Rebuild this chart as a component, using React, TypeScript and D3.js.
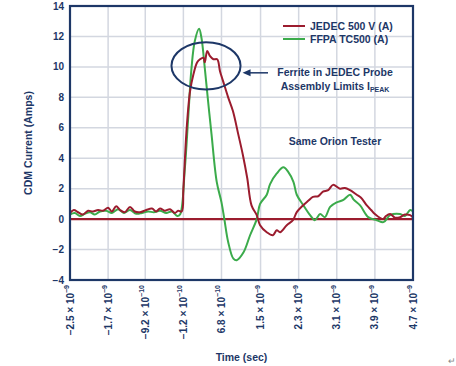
import * as d3 from 'd3';

// time in ns, current in A
const jedecTime = [
  -2.5, -2.42, -2.33, -2.23, -2.12, -2.02, -1.91, -1.81, -1.7, -1.62, -1.53, -1.45, -1.35, -1.24, -1.14, -1.03,
  -0.9, -0.78, -0.69, -0.61, -0.51, -0.4, -0.3, -0.23, -0.155, -0.12, -0.05, 0.02, 0.09, 0.17, 0.23, 0.3, 0.33,
  0.38, 0.44, 0.51, 0.59, 0.65, 0.71, 0.82, 0.92, 1.03, 1.13, 1.22, 1.31, 1.42, 1.49, 1.63, 1.76, 1.84, 1.91,
  2.05, 2.18, 2.26, 2.39, 2.5, 2.6, 2.71, 2.81, 2.92, 3.02, 3.17, 3.27, 3.38, 3.52, 3.61, 3.73, 3.82, 3.9, 4.07,
  4.13, 4.22, 4.32, 4.43, 4.53, 4.64, 4.7,
];
const jedecAmps = [
  0.4, 0.6, 0.45, 0.3, 0.55, 0.5, 0.6, 0.55, 0.75, 0.5, 0.85, 0.6, 0.45, 0.8, 0.5, 0.45,
  0.6, 0.7, 0.5, 0.7, 0.55, 0.65, 0.4, 0.55, 0.5, 2.0, 6.0, 8.4, 9.5, 10.3, 10.5, 10.6, 10.3,
  11.05, 10.7, 10.5, 10.5, 9.7, 9.1, 8.0, 7.1, 5.6, 4.2, 2.7, 0.9, 0.26, -0.4, -0.86, -1.06, -0.73, -0.86,
  -0.4, -0.07, 0.46, 0.9, 1.2, 1.46, 1.5, 1.8, 1.9, 2.25, 2.0, 2.05, 1.9, 1.6, 1.4, 0.9, 0.6, 0.33, 0.0,
  0.2, 0.33, 0.1, 0.13, 0.3, 0.26, 0.1,
];

const ffpaTime = [
  -2.5, -2.4, -2.29, -2.19, -2.08, -1.98, -1.87, -1.74, -1.62, -1.49, -1.37, -1.24, -1.11, -0.99, -0.86, -0.74,
  -0.61, -0.48, -0.36, -0.25, -0.19, -0.09, -0.02, 0.05, 0.12, 0.21, 0.26, 0.33, 0.4, 0.47, 0.58, 0.68, 0.74,
  0.82, 0.93, 1.0, 1.14, 1.28, 1.42, 1.49, 1.63, 1.7, 1.84, 1.98, 2.08, 2.19, 2.26, 2.4, 2.54, 2.64, 2.75,
  2.85, 2.96, 3.1, 3.24, 3.38, 3.45, 3.59, 3.76, 3.94, 4.08, 4.22, 4.43, 4.53, 4.64, 4.7,
];
const ffpaAmps = [
  0.3, 0.4, 0.2, 0.35, 0.45, 0.3, 0.5, 0.55, 0.4, 0.65, 0.4, 0.6, 0.35, 0.4, 0.5, 0.45,
  0.55, 0.4, 0.5, 0.2, 0.3, 3.3, 6.6, 9.9, 11.7, 12.5, 11.9, 9.9, 7.7, 5.6, 2.45, 1.1, 0.0,
  -1.5, -2.6, -2.7, -2.2, -1.06, 0.0, 1.0, 1.6, 2.3, 3.0, 3.4, 3.1, 2.45, 1.6, 0.9, 0.26, -0.07, 0.33,
  0.13, 0.8, 1.1, 1.26, 1.6, 1.3, 0.9, 0.13, -0.07, -0.2, 0.26, 0.33, 0.2, 0.6, 0.5,
];

const xTickValues = [-2.5, -1.7, -0.92, -0.12, 0.68, 1.5, 2.3, 3.1, 3.9, 4.7];
const xTickMantissa = ['\u22122.5', '\u22121.7', '\u22129.2', '\u22121.2', '6.8', '1.5', '2.3', '3.1', '3.9', '4.7'];
const xTickExponent = ['\u22129', '\u22129', '\u221210', '\u221210', '\u221210', '\u22129', '\u22129', '\u22129', '\u22129', '\u22129'];
const yTickValues = [-4, -2, 0, 2, 4, 6, 8, 10, 12, 14];

const seriesNames = ['JEDEC 500 V (A)', 'FFPA TC500 (A)'];

const RED = '#9b1c2e';
const GREEN = '#3bab4b';
const NAVY = '#1d3767';
const GRID = '#d3d7e0';
const FONT = '"Liberation Sans", Arial, sans-serif';

export default function App() {
  const left = 70, right = 413, top = 6, bottom = 280;
  const x = d3.scaleLinear().domain([-2.5, 4.7]).range([left, right]);
  const y = d3.scaleLinear().domain([-4, 14]).range([bottom, top]);

  const line = d3.line<[number, number]>()
    .x(d => x(d[0]))
    .y(d => y(d[1]))
    .curve(d3.curveCatmullRom.alpha(0.5));

  const jedec = jedecTime.map((t, i) => [t, jedecAmps[i]] as [number, number]);
  const ffpa = ffpaTime.map((t, i) => [t, ffpaAmps[i]] as [number, number]);

  // ellipse around the JEDEC peak
  const ecx = x(0.355), ecy = y(10.07);
  const erx = x(0.355 + 0.725) - ecx, ery = y(10.07 - 1.55) - ecy;
  const ay = ecy + 7, ax = ecx + erx + 2;

  return (
    <svg width={456} height={366} style={{ position: 'absolute', left: 0, top: 0, background: '#fff' }} fontFamily={FONT}>
      {/* grid */}
      {xTickValues.map(v => (
        <line key={'gx' + v} x1={x(v)} x2={x(v)} y1={top} y2={bottom} stroke={GRID} strokeWidth={1.5} />
      ))}
      {yTickValues.map(v => (
        <line key={'gy' + v} x1={left} x2={right} y1={y(v)} y2={y(v)} stroke={GRID} strokeWidth={1.5} />
      ))}

      {/* zero reference */}
      <line x1={left} x2={right} y1={y(0)} y2={y(0)} stroke={RED} strokeWidth={2.2} />

      <path d={line(ffpa) ?? ''} fill="none" stroke={GREEN} strokeWidth={2} strokeLinejoin="round" />
      <path d={line(jedec) ?? ''} fill="none" stroke={RED} strokeWidth={2} strokeLinejoin="round" />

      <rect x={left} y={top} width={right - left} height={bottom - top} fill="none" stroke={NAVY} strokeWidth={2.2} />

      {/* y ticks */}
      {yTickValues.map(v => (
        <text key={'ty' + v} x={left - 6} y={y(v)} dy="0.35em" textAnchor="end" fontSize={10} fontWeight="bold" fill={NAVY}>
          {v < 0 ? '\u2212' + Math.abs(v) : v}
        </text>
      ))}

      {/* x ticks */}
      {xTickValues.map((v, i) => (
        <text key={'tx' + v} transform={`translate(${x(v)},${bottom + 5}) rotate(-90)`} textAnchor="end"
          dominantBaseline="central" fontSize={10} fontWeight="bold" fill={NAVY}>
          {xTickMantissa[i] + ' \u00d7 10'}
          <tspan fontSize={7} dy={-4}>{xTickExponent[i]}</tspan>
        </text>
      ))}

      <text transform={`translate(28,${(top + bottom) / 2}) rotate(-90)`} textAnchor="middle" dominantBaseline="central"
        fontSize={10.5} fontWeight="bold" fill={NAVY}>CDM Current (Amps)</text>
      <text x={(left + right) / 2} y={361} textAnchor="middle" fontSize={10.5} fontWeight="bold" fill={NAVY}>Time (sec)</text>

      {/* legend */}
      {seriesNames.map((name, i) => (
        <g key={name} transform={`translate(283,${26 + i * 13})`}>
          <line x1={0} x2={22} y1={0} y2={0} stroke={i === 0 ? RED : GREEN} strokeWidth={2} />
          <text x={27} y={0} dy="0.35em" fontSize={10.5} fontWeight="bold" fill={NAVY}>{name}</text>
        </g>
      ))}

      {/* annotation */}
      <ellipse cx={ecx} cy={ecy} rx={erx} ry={ery} fill="none" stroke={NAVY} strokeWidth={2} />
      <line x1={ax + 6} x2={268} y1={ay} y2={ay} stroke={NAVY} strokeWidth={1.5} />
      <path d={`M${ax},${ay} L${ax + 8},${ay - 3.5} L${ax + 8},${ay + 3.5} Z`} fill={NAVY} />
      <text x={335} y={ay} dy="0.35em" textAnchor="middle" fontSize={10.5} fontWeight="bold" fill={NAVY}>Ferrite in JEDEC Probe</text>
      <text x={335} y={ay + 14} dy="0.35em" textAnchor="middle" fontSize={10.5} fontWeight="bold" fill={NAVY}>
        Assembly Limits I<tspan fontSize={7} dy={2}>PEAK</tspan>
      </text>
      <text x={335} y={141} dy="0.35em" textAnchor="middle" fontSize={10.5} fontWeight="bold" fill={NAVY}>Same Orion Tester</text>

      <text x={448} y={364} fontSize={9} fill="#888">{'\u21b5'}</text>
    </svg>
  );
}
